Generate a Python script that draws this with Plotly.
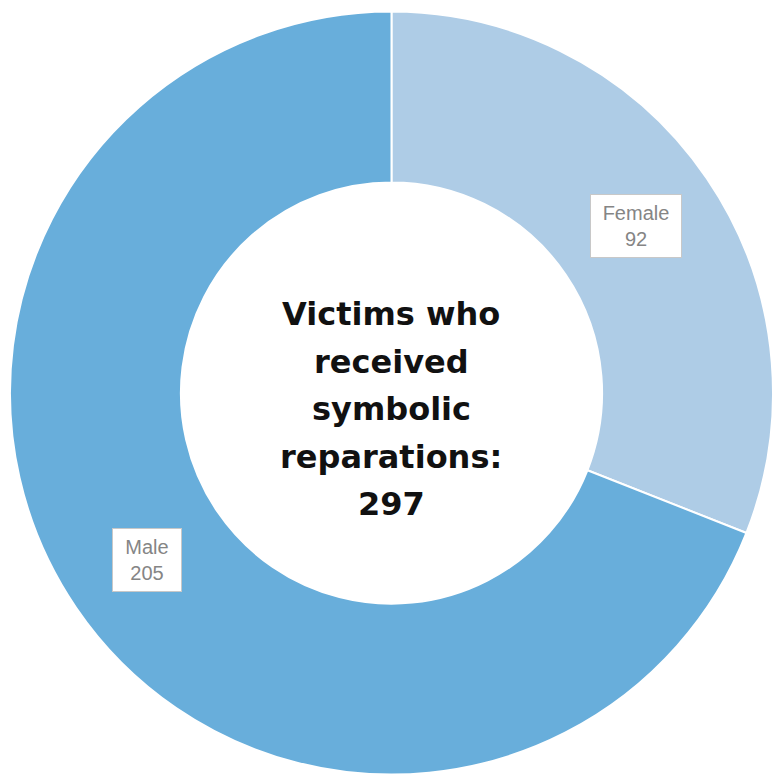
import math
import plotly.graph_objects as go

labels = ["Female", "Male"]
values = [92, 205]
colors = ["#AECCE6", "#68AEDB"]
center_lines = ["Victims who", "received", "symbolic", "reparations:", "297"]

W, H = 773, 778
dom_x = [0.0129, 1.0]
dom_y = [0.0026, 0.987]
hole = 0.552

fig = go.Figure(go.Pie(
    labels=labels, values=values, hole=hole, sort=False, direction="clockwise",
    rotation=0, marker=dict(colors=colors, line=dict(color="white", width=2)),
    textinfo="none", hoverinfo="label+value", showlegend=False,
    domain=dict(x=dom_x, y=dom_y),
))

# pie geometry in pixels (derived from domain)
dw = (dom_x[1] - dom_x[0]) * W
dh = (dom_y[1] - dom_y[0]) * H
R = min(dw, dh) / 2
cx = dom_x[0] * W + dw / 2
cy = dom_y[0] * H + dh / 2  # from bottom
r_mid = R * (1 + hole) / 2

annotations = []
total = sum(values)
cum = 0
box_w = {"Female": 88, "Male": 66}
for lab, v in zip(labels, values):
    mid = (cum + v / 2) / total * 2 * math.pi
    cum += v
    px = cx + r_mid * math.sin(mid)
    py = cy + r_mid * math.cos(mid)
    annotations.append(dict(
        x=px / W, y=py / H, xref="paper", yref="paper",
        xanchor="center", yanchor="middle",
        text=f"{lab}<br>{v}", showarrow=False,
        font=dict(family="Liberation Sans, Arial", size=20, color="#858585"),
        bgcolor="white", bordercolor="#c8c8c8", borderwidth=1,
        width=box_w[lab], height=60, align="center",
    ))

spacing = 47.5
offset = -16
n = len(center_lines)
for i, line in enumerate(center_lines):
    py = cy + offset + (n - 1) / 2 * spacing - i * spacing
    annotations.append(dict(
        x=cx / W, y=py / H, xref="paper", yref="paper",
        xanchor="center", yanchor="middle",
        text=f"<b>{line}</b>", showarrow=False,
        font=dict(family="DejaVu Sans, Arial", size=32, color="#111111"),
    ))

fig.update_layout(
    width=W, height=H, margin=dict(l=0, r=0, t=0, b=0),
    paper_bgcolor="white", plot_bgcolor="white",
    annotations=annotations,
)
fig.write_html("out.html")
